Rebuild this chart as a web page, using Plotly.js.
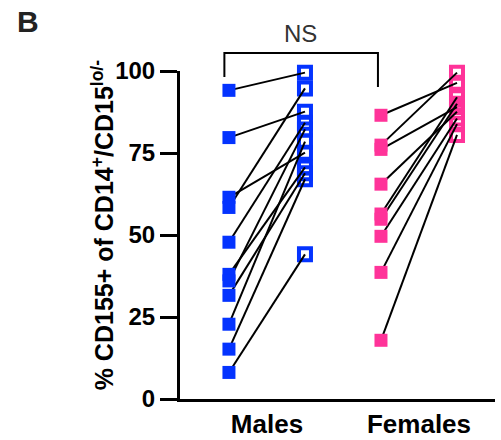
<!DOCTYPE html>
<html>
<head>
<meta charset="utf-8">
<script src="https://cdn.plot.ly/plotly-3.0.1.min.js"></script>
<style>html,body{margin:0;padding:0;background:#fff;}#chart{width:501px;height:440px;}</style>
</head>
<body>
<div id="chart"></div>
<script>
// Data
var groups = ['Males', 'Females'];
var malesBefore = [94.1, 79.7, 61.5, 58.4, 47.8, 38.0, 36.0, 31.6, 22.8, 15.2, 8.1];
var malesAfter  = [99.5, 87.6, 75.1, 94.7, 84.2, 70.6, 82.2, 68.8, 78.5, 67.0, 44.1];
var femalesBefore = [86.5, 77.4, 76.1, 65.5, 56.4, 54.8, 49.6, 38.6, 17.9];
var femalesAfter  = [96.4, 99.5, 89.0, 87.6, 92.0, 90.0, 85.5, 83.8, 80.5];
var pairOffset = 0.25;

var blue = '#0433ff', pink = '#ff3399';
var traces = [];

function addGroup(center, before, after, color) {
  var xb = before.map(function(){return center - pairOffset;});
  var xa = after.map(function(){return center + pairOffset;});
  // post (open squares)
  traces.push({x: xa, y: after, type: 'scatter', mode: 'markers', cliponaxis: false,
    marker: {symbol: 'square-open', size: 12, color: color, line: {width: 4, color: color}},
    hoverinfo: 'skip', showlegend: false});
  // connecting lines
  var lx = [], ly = [];
  for (var i = 0; i < before.length; i++) {
    lx.push(center - pairOffset, center + pairOffset, null);
    ly.push(before[i], after[i], null);
  }
  traces.push({x: lx, y: ly, type: 'scatter', mode: 'lines', cliponaxis: false,
    line: {color: '#000', width: 2}, hoverinfo: 'skip', showlegend: false});
  // pre (filled squares)
  traces.push({x: xb, y: before, type: 'scatter', mode: 'markers', cliponaxis: false,
    marker: {symbol: 'square', size: 13, color: color},
    hoverinfo: 'skip', showlegend: false});
}
addGroup(1, malesBefore, malesAfter, blue);
addGroup(2, femalesBefore, femalesAfter, pink);

var layout = {
  width: 501, height: 440,
  margin: {l: 180, r: 6, t: 71, b: 41},
  paper_bgcolor: '#fff', plot_bgcolor: '#fff',
  font: {family: 'Liberation Sans, Arial, sans-serif', color: '#000'},
  showlegend: false,
  xaxis: {range: [0.428, 2.5], tickvals: [1, 2], ticktext: groups.map(function(g){return '<b>' + g + '</b>';}),
    showgrid: false, zeroline: false, showline: true, linecolor: '#000', linewidth: 3,
    ticks: '', tickfont: {size: 26, color: '#000'}, fixedrange: true},
  yaxis: {range: [0, 100], tickvals: [0, 25, 50, 75, 100],
    ticktext: ['<b>0</b>', '<b>25</b>', '<b>50</b>', '<b>75</b>', '<b>100</b>'],
    showgrid: false, zeroline: false, showline: true, linecolor: '#000', linewidth: 3,
    ticks: 'outside', ticklen: 17, tickwidth: 3, tickcolor: '#000',
    tickfont: {size: 24, color: '#000'},
    fixedrange: true},
  shapes: [
    {type: 'path', xref: 'paper', yref: 'paper', path: 'M 0.1409 0.982 L 0.1409 1.055 L 0.6284 1.055 L 0.6284 0.951',
      line: {color: '#000', width: 2}}
  ],
  annotations: [
    {text: '<b>% CD155+ of CD14<sup>+</sup>/CD15<sup>lo/-</sup></b>', xref: 'paper', yref: 'paper',
      x: -0.244, y: 0.53, xanchor: 'center', yanchor: 'middle', textangle: -90, showarrow: false,
      font: {size: 25, color: '#000'}},
    {text: 'NS', xref: 'paper', yref: 'paper', x: 0.381, y: 1.113, xanchor: 'center', yanchor: 'middle', showarrow: false,
      font: {size: 24, color: '#333'}},
    {text: '<b>B</b>', xref: 'paper', yref: 'paper', x: -0.524, y: 1.152, xanchor: 'left', yanchor: 'middle', showarrow: false,
      font: {size: 30, color: '#222'}}
  ]
};
Plotly.newPlot('chart', traces, layout, {displayModeBar: false, staticPlot: true});
</script>
</body>
</html>
